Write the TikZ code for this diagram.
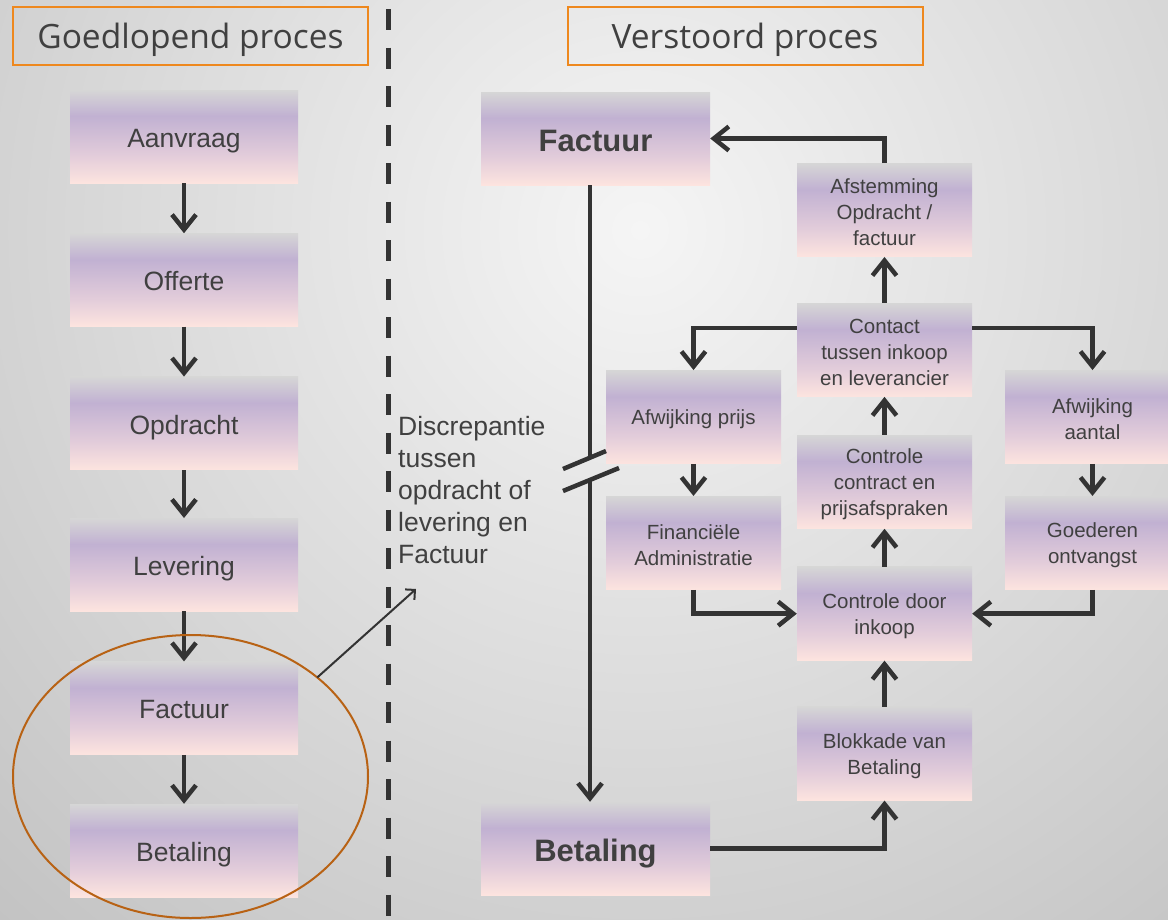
\documentclass[tikz,border=0pt]{standalone}
\usepackage{fontspec}
\setmainfont{Liberation Sans}
\newfontfamily\headfont{Open Sans}
\usepackage{tikz}
\usetikzlibrary{positioning, arrows.meta, shapes.geometric}
\definecolor{boxtop}{RGB}{214,214,214}
\definecolor{boxmid}{RGB}{193,177,210}
\definecolor{boxlow}{RGB}{226,204,218}
\definecolor{boxbot}{RGB}{253,228,223}
\definecolor{bgin}{RGB}{245,245,245}
\definecolor{bgout}{RGB}{192,192,192}
\definecolor{ink}{RGB}{64,64,64}
\definecolor{wire}{RGB}{51,51,51}
\definecolor{headline}{RGB}{238,136,30}
\definecolor{ringcol}{RGB}{184,98,20}
\pgfdeclareverticalshading{boxshade}{100bp}{color(0bp)=(boxbot); color(25bp)=(boxbot); color(40bp)=(boxlow); color(61bp)=(boxmid); color(75bp)=(boxtop); color(100bp)=(boxtop)}
\newcommand{\boxlift}{\rule{0pt}{20pt}}
\tikzstyle{boxbase} = [rectangle, shade, shading=boxshade, text=ink, align=center, minimum width=228pt, minimum height=93pt, inner sep=0pt]
\tikzstyle{block} = [boxbase, text height=21.5pt, text depth=0pt, font=\fontsize{26.5}{31}\selectfont]
\tikzstyle{bigblock} = [boxbase, minimum width=229pt, text height=25pt, text depth=0pt, font=\fontsize{31}{36}\selectfont\bfseries]
\tikzstyle{smallblock} = [boxbase, minimum width=175pt, minimum height=93.5pt, font=\fontsize{20.5}{26}\selectfont]
\tikzstyle{header} = [rectangle, draw=headline, line width=2pt, text=ink, minimum width=355pt, minimum height=58pt, text height=24pt, text depth=0pt, font=\headfont\fontsize{33.5}{38}\selectfont]
\tikzstyle{line} = [draw=wire, line width=4.5pt, -{Straight Barb[length=15pt, width=24pt]}]
\tikzstyle{wire} = [draw=wire, line width=4.5pt]

\begin{document}
\begin{tikzpicture}[x=1pt, y=-1pt]
    \useasboundingbox (0,0) rectangle (1168,919);
    \begin{scope}
        \clip (0,0) rectangle (1168,919);
        \shade[inner color=bgin, outer color=bgout] (640,230) circle (1000);
    \end{scope}

    % headers and divider
    \node (goed) [header] at (190.5,36) {Goedlopend proces};
    \node (verst) [header] at (745,36) {Verstoord proces};
    \draw[wire, line width=5pt, dash pattern=on 21pt off 17.5pt] (388,9) -- (388,919);

    % left column
    \node (aanvraag) [block] at (184,136.5) {Aanvraag};
    \node (offerte) [block, below=50pt of aanvraag] {Offerte};
    \node (opdracht) [block, below=50pt of offerte] {Opdracht};
    \node (levering) [block, below=48pt of opdracht] {Levering};
    \node (factuur) [block, below=50pt of levering] {Factuur};
    \node (betaling) [block, below=49pt of factuur] {Betaling};

    \path [line] (aanvraag) -- (offerte);
    \path [line] (offerte) -- (opdracht);
    \path [line] (opdracht) -- (levering);
    \path [line] (levering) -- (factuur);
    \path [line] (factuur) -- (betaling);

    \node (ring) [ellipse, draw=ringcol, line width=2pt, minimum width=355pt, minimum height=283pt, inner sep=0pt, outer sep=0pt] at (190.5,776.5) {};
    \node (disc) [anchor=north west, align=left, text=ink, inner sep=0pt, font=\fontsize{26.5}{32}\selectfont] at (398,416) {Discrepantie\\tussen\\opdracht of\\levering en\\Factuur};
    \coordinate (discend) at (416,589);
    \draw[draw=wire, line width=2pt, -{Straight Barb[length=7pt, width=14pt]}] (ring.38) -- (discend);

    % right part
    \node (fact2) [bigblock] at (595.5,138.5) {Factuur};
    \node (betal2) [bigblock] at (595.5,848.5) {Betaling};
    \node (afst) [smallblock] at (884.5,210) {\boxlift Afstemming\\Opdracht /\\factuur};
    \node (contact) [smallblock, below=46pt of afst] {\boxlift Contact\\tussen inkoop\\en leverancier};
    \node (ctrlcontr) [smallblock, below=38pt of contact] {\boxlift Controle\\contract en\\prijsafspraken};
    \node (ctrlink) [smallblock, below=38pt of ctrlcontr] {\boxlift Controle door\\inkoop};
    \node (blok) [smallblock, below=46pt of ctrlink] {\boxlift Blokkade van\\Betaling};
    \node (afwprijs) [smallblock] at (693.5,417) {\boxlift Afwijking prijs};
    \node (fin) [smallblock, below=32pt of afwprijs] {\boxlift Financiële\\Administratie};
    \node (afwaant) [smallblock] at (1092.5,417) {\boxlift Afwijking\\aantal};
    \node (goedont) [smallblock, below=32pt of afwaant] {\boxlift Goederen\\ontvangst};

    % broken line factuur -> betaling
    \coordinate (brkA) at (590,458);
    \coordinate (brkB) at (590,480);
    \path [wire] (fact2.south -| brkA) -- (brkA);
    \path [line] (brkB) -- (betal2.north -| brkB);
    \draw[wire] (563,469) -- (606,451);
    \draw[wire] (563,491) -- (619,468);

    \path [line] (betal2.east) -| (blok.south);
    \path [line] (blok) -- (ctrlink);
    \path [line] (ctrlink) -- (ctrlcontr);
    \path [line] (ctrlcontr) -- (contact);
    \path [line] (contact) -- (afst);
    \path [line] (afst.north) |- (fact2.east);
    \path [line] (contact.166) -| (afwprijs.north);
    \path [line] (contact.14) -| (afwaant.north);
    \path [line] (afwprijs) -- (fin);
    \path [line] (afwaant) -- (goedont);
    \path [line] (fin.south) |- (ctrlink.west);
    \path [line] (goedont.south) |- (ctrlink.east);

\end{tikzpicture}
\end{document}
